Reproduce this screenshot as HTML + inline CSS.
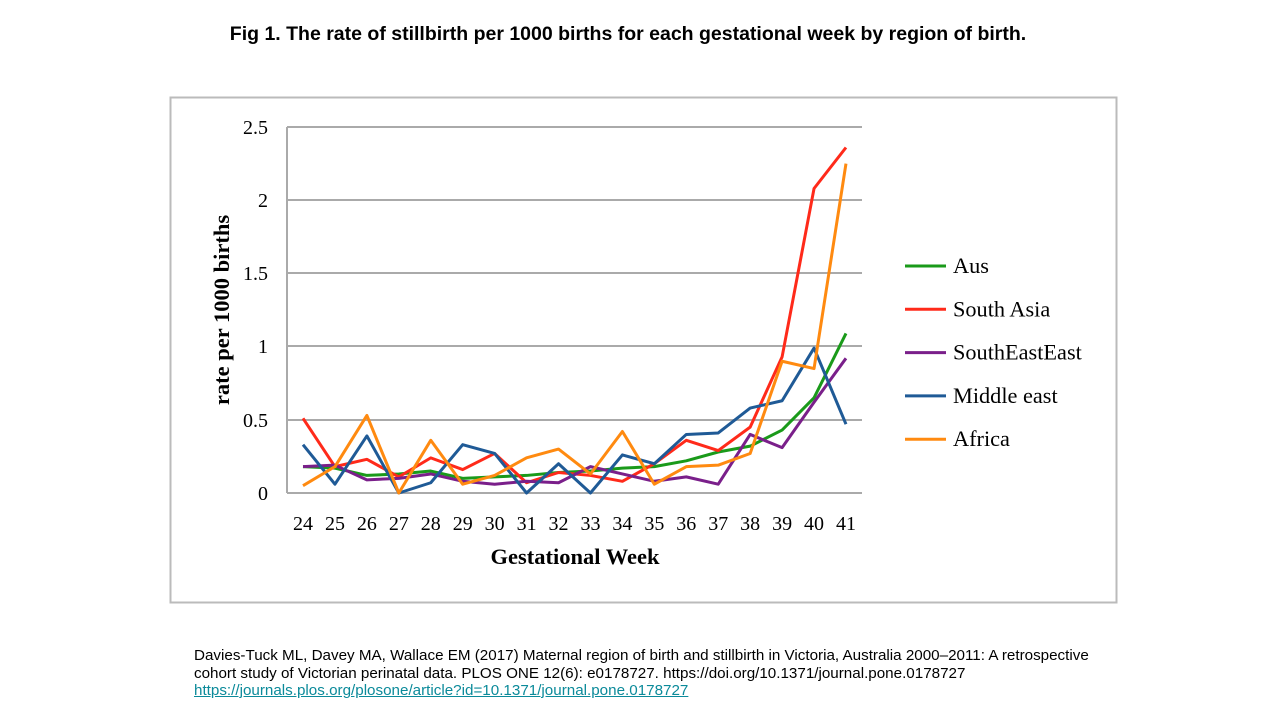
<!DOCTYPE html>
<html><head><style>
body{margin:0;background:#fff;width:1280px;height:720px;overflow:hidden;position:relative;font-family:"Liberation Sans",sans-serif}
.t{position:absolute;left:-12px;width:1280px;top:23px;text-align:center;font-weight:bold;font-size:19.5px}
.c{position:absolute;left:194px;top:647px;width:910px;font-size:15.2px;line-height:17.5px;color:#000}
.c a{color:#0b8a9a;text-decoration:underline}
</style></head><body>
<div class="t">Fig 1. The rate of stillbirth per 1000 births for each gestational week by region of birth.</div>
<svg width="1280" height="720" style="position:absolute;left:0;top:0">
<rect x="170.5" y="97.5" width="946" height="505" fill="none" stroke="#bbb" stroke-width="2"/>
<g stroke="#aaa" stroke-width="2">
<line x1="287" x2="862" y1="127" y2="127"/><line x1="287" x2="862" y1="200" y2="200"/>
<line x1="287" x2="862" y1="273" y2="273"/><line x1="287" x2="862" y1="346" y2="346"/>
<line x1="287" x2="862" y1="420" y2="420"/><line x1="287" x2="862" y1="493" y2="493"/>
<line x1="287" x2="287" y1="127" y2="493"/>
</g>
<g font-family="Liberation Serif,serif" font-size="20" text-anchor="end">
<text x="268" y="134">2.5</text><text x="268" y="207">2</text><text x="268" y="280">1.5</text>
<text x="268" y="353">1</text><text x="268" y="427">0.5</text><text x="268" y="500">0</text>
</g>
<g font-family="Liberation Serif,serif" font-size="20" text-anchor="middle" id="xl"></g>
<text x="575" y="564" font-family="Liberation Serif,serif" font-size="22.5" font-weight="bold" text-anchor="middle">Gestational Week</text>
<text transform="translate(229,310) rotate(-90)" font-family="Liberation Serif,serif" font-size="22.5" font-weight="bold" text-anchor="middle">rate per 1000 births</text>
<g fill="none" stroke-width="3" stroke-linejoin="round" id="ls"></g>
<g font-family="Liberation Serif,serif" font-size="22.3" id="lg"></g>
</svg>
<div class="c">Davies-Tuck ML, Davey MA, Wallace EM (2017) Maternal region of birth and stillbirth in Victoria, Australia 2000–2011: A retrospective cohort study of Victorian perinatal data. PLOS ONE 12(6): e0178727. https://doi.org/10.1371/journal.pone.0178727<br><a>https://journals.plos.org/plosone/article?id=10.1371/journal.pone.0178727</a></div>
<script>
var X=i=>303+i*31.94,Y=v=>493-v*146.4;
var xl=document.getElementById('xl');
for(var i=0;i<18;i++){xl.innerHTML+='<text x="'+X(i)+'" y="530">'+(24+i)+'</text>';}
var S=[
["#1a9a1a","Aus",[.18,.17,.12,.13,.15,.1,.11,.12,.14,.15,.17,.18,.22,.28,.32,.43,.65,1.09]],
["#ff2a1a","South Asia",[.51,.18,.23,.11,.24,.16,.27,.07,.14,.12,.08,.2,.36,.29,.45,.93,2.08,2.36]],
["#7a1f8a","SouthEastEast",[.18,.19,.09,.1,.13,.08,.06,.08,.07,.18,.13,.08,.11,.06,.4,.31,.62,.92]],
["#1f5a96","Middle east",[.33,.06,.39,0,.07,.33,.27,0,.2,0,.26,.2,.4,.41,.58,.63,.99,.47]],
["#ff8a10","Africa",[.05,.18,.53,0,.36,.06,.12,.24,.3,.13,.42,.06,.18,.19,.27,.9,.85,2.25]]];
var ls=document.getElementById('ls'),lg=document.getElementById('lg'),h='',g='';
S.forEach(function(s,k){h+='<polyline stroke="'+s[0]+'" points="'+s[2].map((v,i)=>X(i)+','+Y(v)).join(' ')+'"/>';
var y=266+k*43.3;h+='<line stroke="'+s[0]+'" x1="905" x2="946" y1="'+y+'" y2="'+y+'"/>';
g+='<text x="953" y="'+(y+7)+'">'+s[1]+'</text>';});
ls.innerHTML=h;lg.innerHTML=g;
</script>
</body></html>
